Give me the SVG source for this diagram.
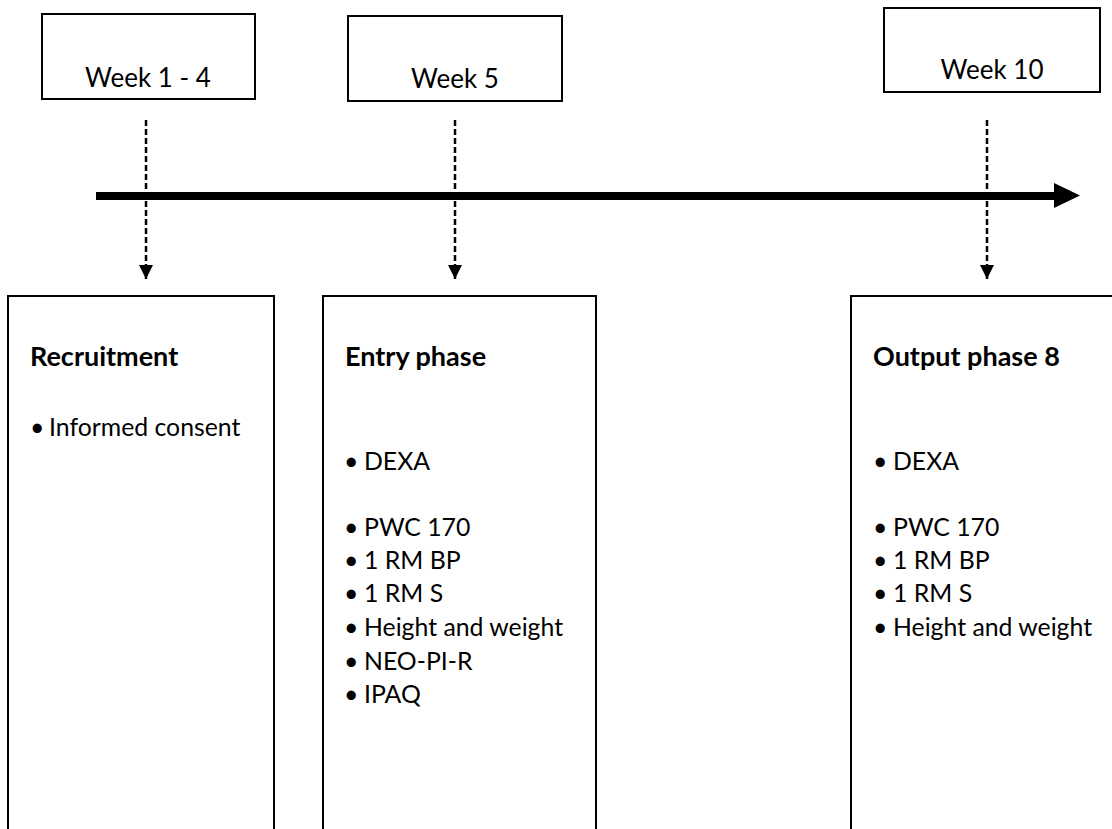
<svg xmlns="http://www.w3.org/2000/svg" width="1112" height="829" viewBox="0 0 1112 829">
  <style>
    .box { fill: #ffffff; stroke: #000000; stroke-width: 2; }
    .week { font-family: Lato, "Liberation Sans", sans-serif; font-size: 26px; fill: #000; text-anchor: middle; }
    .title { font-family: Lato, "Liberation Sans", sans-serif; font-size: 27px; font-weight: bold; fill: #000; }
    .item { font-family: Lato, "Liberation Sans", sans-serif; font-size: 24.8px; fill: #000; }
    .dash { fill: none; stroke: #000; stroke-width: 2.5; stroke-dasharray: 6 3; }
    .axis { fill: none; stroke: #000; stroke-width: 8; }
  </style>
  <defs>
    <marker id="dashHead" markerUnits="userSpaceOnUse" markerWidth="15" markerHeight="15" refX="14" refY="7" orient="auto">
      <path d="M0,0 L14,7 L0,14 Z" fill="#000"/>
    </marker>
  </defs>

  <rect width="1112" height="829" fill="#ffffff"/>

  <!-- week labels -->
  <g id="week-1-4">
    <rect class="box" x="42" y="14" width="213" height="85"/>
    <text class="week" x="148" y="87">Week 1 - 4</text>
  </g>
  <g id="week-5">
    <rect class="box" x="348" y="16" width="214" height="85"/>
    <text class="week" x="455" y="88">Week 5</text>
  </g>
  <g id="week-10">
    <rect class="box" x="884" y="8" width="216" height="84"/>
    <text class="week" x="992" y="79">Week 10</text>
  </g>

  <!-- timeline and links -->
  <g id="connectors">
    <line class="axis" x1="96" y1="196" x2="1056" y2="196"/>
    <path d="M1054,183 L1080,195.5 L1054,208 Z" fill="#000"/>
    <line class="dash" x1="146" y1="120" x2="146" y2="279" marker-end="url(#dashHead)"/>
    <line class="dash" x1="455" y1="120" x2="455" y2="279" marker-end="url(#dashHead)"/>
    <line class="dash" x1="987" y1="120" x2="987" y2="279" marker-end="url(#dashHead)"/>
  </g>

  <!-- phase boxes -->
  <g id="recruitment">
    <rect class="box" x="8" y="296" width="266" height="560"/>
    <text class="title" x="30" y="366">Recruitment</text>
    <text class="item" y="436"><tspan x="30">•</tspan><tspan x="49">Informed consent</tspan></text>
  </g>
  <g id="entry-phase">
    <rect class="box" x="323" y="296" width="273" height="560"/>
    <text class="title" x="345" y="366">Entry phase</text>
    <text class="item" y="470"><tspan x="344">•</tspan><tspan x="364">DEXA</tspan></text>
    <text class="item" y="536"><tspan x="344">•</tspan><tspan x="364">PWC 170</tspan></text>
    <text class="item" y="569"><tspan x="344">•</tspan><tspan x="364">1 RM BP</tspan></text>
    <text class="item" y="602"><tspan x="344">•</tspan><tspan x="364">1 RM S</tspan></text>
    <text class="item" y="636"><tspan x="344">•</tspan><tspan x="364">Height and weight</tspan></text>
    <text class="item" y="670"><tspan x="344">•</tspan><tspan x="364">NEO-PI-R</tspan></text>
    <text class="item" y="703"><tspan x="344">•</tspan><tspan x="364">IPAQ</tspan></text>
  </g>
  <g id="output-phase">
    <rect class="box" x="851" y="296" width="280" height="560"/>
    <text class="title" x="873" y="366">Output phase 8</text>
    <text class="item" y="470"><tspan x="873">•</tspan><tspan x="893">DEXA</tspan></text>
    <text class="item" y="536"><tspan x="873">•</tspan><tspan x="893">PWC 170</tspan></text>
    <text class="item" y="569"><tspan x="873">•</tspan><tspan x="893">1 RM BP</tspan></text>
    <text class="item" y="602"><tspan x="873">•</tspan><tspan x="893">1 RM S</tspan></text>
    <text class="item" y="636"><tspan x="873">•</tspan><tspan x="893">Height and weight</tspan></text>
  </g>
</svg>
